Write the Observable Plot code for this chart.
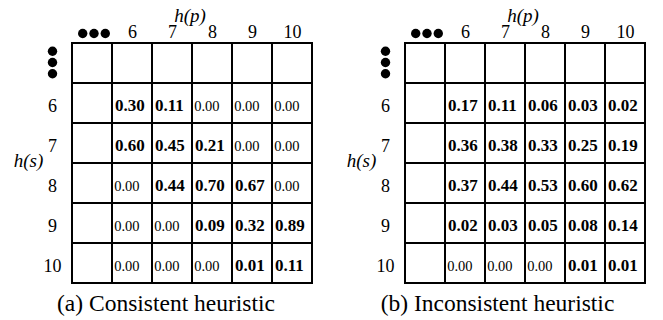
<!DOCTYPE html>
<html><head><meta charset="utf-8">
<script src="https://cdn.jsdelivr.net/npm/d3@7"></script>
<script src="https://cdn.jsdelivr.net/npm/@observablehq/plot@0.6"></script>
<style>
html,body{margin:0;padding:0;background:#fff;}
#wrap{display:flex;width:663px;height:320px;}
svg text{font-family:"Liberation Serif","Times New Roman",serif;}
g[aria-label="zero"] text{letter-spacing:1.8px;}
</style></head><body><div id="wrap"></div>
<script>
// h(p) column labels and h(s) row labels
const hpLabels = ["6", "7", "8", "9", "10"];
const hsLabels = ["6", "7", "8", "9", "10"];
const ellipsis = "…"; // leading unlabelled row / column

// rows: h(s) = 6..10, columns: h(p) = 6..10
const consistentValues = [
  [0.30, 0.11, 0.00, 0.00, 0.00],
  [0.60, 0.45, 0.21, 0.00, 0.00],
  [0.00, 0.44, 0.70, 0.67, 0.00],
  [0.00, 0.00, 0.09, 0.32, 0.89],
  [0.00, 0.00, 0.00, 0.01, 0.11]
];
const inconsistentValues = [
  [0.17, 0.11, 0.06, 0.03, 0.02],
  [0.36, 0.38, 0.33, 0.25, 0.19],
  [0.37, 0.44, 0.53, 0.60, 0.62],
  [0.02, 0.03, 0.05, 0.08, 0.14],
  [0.00, 0.00, 0.00, 0.01, 0.01]
];
const captions = ["(a) Consistent heuristic", "(b) Inconsistent heuristic"];
const xTitle = "h(p)";
const yTitle = "h(s)";

function panel(values, caption, m) {
  const W = m.width, H = 320;
  const cols = [ellipsis, ...hpLabels];
  const rows = [ellipsis, ...hsLabels];
  const grid = rows.flatMap(r => cols.map(c => ({r, c})));
  const cells = values.flatMap((row, i) => row.map((v, j) => ({r: hsLabels[i], c: hpLabels[j], v})));
  const gw = W - m.left - m.right;
  const cw = gw / cols.length;
  const ks = [-1, 0, 1];
  const F = "'Liberation Serif', serif";
  const T = {fill: "black", fontFamily: F, textAnchor: "middle", lineAnchor: "middle"};
  return Plot.plot({
    width: W, height: H,
    marginLeft: m.left, marginRight: m.right, marginTop: 42, marginBottom: 36,
    x: {type: "band", domain: cols, padding: 0, axis: null},
    y: {type: "band", domain: rows, padding: 0, axis: null},
    style: {fontFamily: F, background: "white", color: "black"},
    marks: [
      Plot.cell(grid, {x: "c", y: "r", fill: "white", stroke: "black", strokeWidth: 2}),
      Plot.text(cells.filter(d => d.v > 0), {...T, x: "c", y: "r", text: d => d.v.toFixed(2),
        fontWeight: "bold", fontSize: 17, textAnchor: "start", dx: -cw / 2 + 2.5, dy: 2}),
      Plot.text(cells.filter(d => d.v === 0), {...T, x: "c", y: "r", text: d => d.v.toFixed(2),
        fontWeight: "normal", fontSize: 14.5, textAnchor: "start", dx: -cw / 2 + 1.8, dy: 3, ariaLabel: "zero"}),
      Plot.text(hpLabels, {...T, x: d => d, text: d => d, frameAnchor: "top", dy: -10, fontSize: 18}),
      Plot.text(hsLabels, {...T, y: d => d, text: d => d, frameAnchor: "left", dx: -19, dy: 3, fontSize: 18}),
      ...ks.map(k => Plot.dot([ellipsis], {x: d => d, frameAnchor: "top", dy: -9, dx: k * 11.3 + 1.5, r: 4.7, fill: "black"})),
      ...ks.map(k => Plot.dot([ellipsis], {y: d => d, frameAnchor: "left", dx: -19, dy: k * 11.3 - 1, r: 4.7, fill: "black"})),
      Plot.text([xTitle], {...T, text: d => d, frameAnchor: "top", dy: -27, dx: -2, fontStyle: "italic", fontSize: 19}),
      Plot.text([yTitle], {...T, text: d => d, frameAnchor: "left", dx: -43, dy: -3, fontStyle: "italic", fontSize: 19}),
      Plot.text([caption], {...T, text: d => d, frameAnchor: "bottom", dy: 19, dx: W / 2 - (m.left + gw / 2), fontSize: 23.5})
    ]
  });
}

const wrap = document.getElementById("wrap");
wrap.appendChild(panel(consistentValues, captions[0], {width: 331, left: 71, right: 19}));
wrap.appendChild(panel(inconsistentValues, captions[1], {width: 332, left: 73, right: 18}));
</script>
</body></html>
